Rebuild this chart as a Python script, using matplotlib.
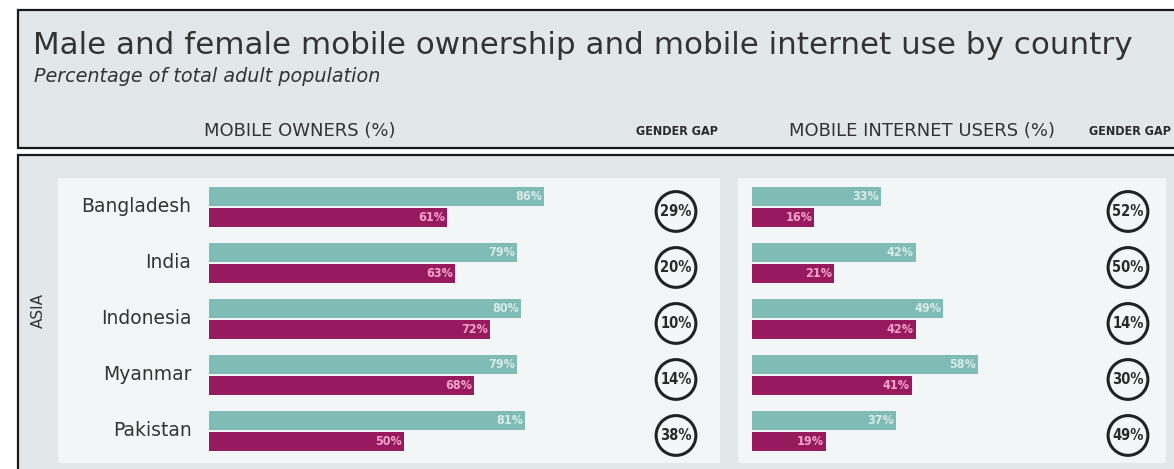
import matplotlib.pyplot as plt
from matplotlib.patches import Rectangle
import matplotlib.transforms as mtransforms

countries = ['Bangladesh', 'India', 'Indonesia', 'Myanmar', 'Pakistan']
owners_male = [86, 79, 80, 79, 81]
owners_female = [61, 63, 72, 68, 50]
owners_gap = [29, 20, 10, 14, 38]
internet_male = [33, 42, 49, 58, 37]
internet_female = [16, 21, 42, 41, 19]
internet_gap = [52, 50, 14, 30, 49]

TEAL = '#7fbcb6'
PLUM = '#971a5f'
INK = '#333333'
HEAD_BG = '#e2e8e9'
PANEL_BG = '#f3f6f6'
SANS = 'DejaVu Sans'
NARROW = dict(family='DejaVu Sans', stretch='condensed', weight='bold')

W, H = 1174, 469
fig = plt.figure(figsize=(W / 100, H / 100), dpi=100)
fig.patch.set_facecolor('white')


def px_box(x0, y0, x1, y1):
    # pixel box (top-left origin) -> figure fraction rect
    return [x0 / W, 1 - y1 / H, (x1 - x0) / W, (y1 - y0) / H]


def fig_rect(x0, y0, x1, y1, **kw):
    l, b, w, h = px_box(x0, y0, x1, y1)
    fig.patches.append(Rectangle((l, b), w, h, transform=fig.transFigure,
                                 zorder=-5, **kw))


def fig_text(x, y, s, **kw):
    fig.text(x / W, 1 - y / H, s, **kw)


# header box and body box
fig_rect(18, 10, 1180, 148, facecolor=HEAD_BG, edgecolor='#1a1a1a', linewidth=1.6)
fig_rect(18, 155, 1180, 475, facecolor=HEAD_BG, edgecolor='#1a1a1a', linewidth=1.6)
fig_rect(58, 178, 720, 463, facecolor=PANEL_BG, edgecolor='none')
fig_rect(738, 178, 1166, 463, facecolor=PANEL_BG, edgecolor='none')

fig_text(33, 45, 'Male and female mobile ownership and mobile internet use by country',
         fontsize=22.3, color=INK, family=SANS, va='center', ha='left')
fig_text(34, 76, 'Percentage of total adult population', fontsize=13.8, style='italic',
         color=INK, family=SANS, va='center', ha='left')
fig_text(300, 131, 'MOBILE OWNERS (%)', fontsize=13, color=INK, family=SANS,
         va='center', ha='center')
fig_text(922, 131, 'MOBILE INTERNET USERS (%)', fontsize=13, color=INK, family=SANS,
         va='center', ha='center')
fig_text(677, 131, 'GENDER GAP', fontsize=9, color='#2a2a2a', va='center',
         ha='center', **NARROW)
fig_text(1130, 131, 'GENDER GAP', fontsize=9, color='#2a2a2a', va='center',
         ha='center', **NARROW)
fig_text(38, 310, 'ASIA', fontsize=11, color=INK, family=SANS, rotation=90,
         va='center', ha='center')

rows = list(range(len(countries)))
off, bh = 0.19, 0.34
ylim = ((462 - 207) / 56, (178 - 207) / 56)


def panel(x0px, male, female, gap, gap_px, names):
    ax = fig.add_axes(px_box(x0px, 178, x0px + 390, 462))
    ax.set_xlim(0, 100)
    ax.set_ylim(*ylim)
    ax.axis('off')
    ax.barh([r - off for r in rows], male, height=bh, color=TEAL)
    ax.barh([r + off for r in rows], female, height=bh, color=PLUM)
    for r, m, f in zip(rows, male, female):
        ax.text(m - 0.5, r - off, f'{m}%', fontsize=9, color='#d9ebe9',
                ha='right', va='center', **NARROW)
        ax.text(f - 0.5, r + off, f'{f}%', fontsize=9, color='#f2a4cb',
                ha='right', va='center', **NARROW)
    trans = mtransforms.blended_transform_factory(ax.transAxes, ax.transData)
    gx = (gap_px - x0px) / 390
    gy = [r + 0.08 for r in rows]
    ax.scatter([gx] * len(rows), gy, s=820, facecolor='none', edgecolor='#222222',
               linewidth=2.2, transform=trans, clip_on=False)
    for y, g in zip(gy, gap):
        ax.text(gx, y, f'{g}%', fontsize=10.5, color='#2a2a2a',
                ha='center', va='center', transform=trans, **NARROW)
    if names:
        for r, n in zip(rows, countries):
            ax.text(-0.045, r, n, fontsize=13.5, color=INK, family=SANS, ha='right',
                    va='center', transform=trans)
    return ax


panel(209, owners_male, owners_female, owners_gap, 676, True)
panel(752, internet_male, internet_female, internet_gap, 1128, False)

fig.savefig('out.png', dpi=100)
